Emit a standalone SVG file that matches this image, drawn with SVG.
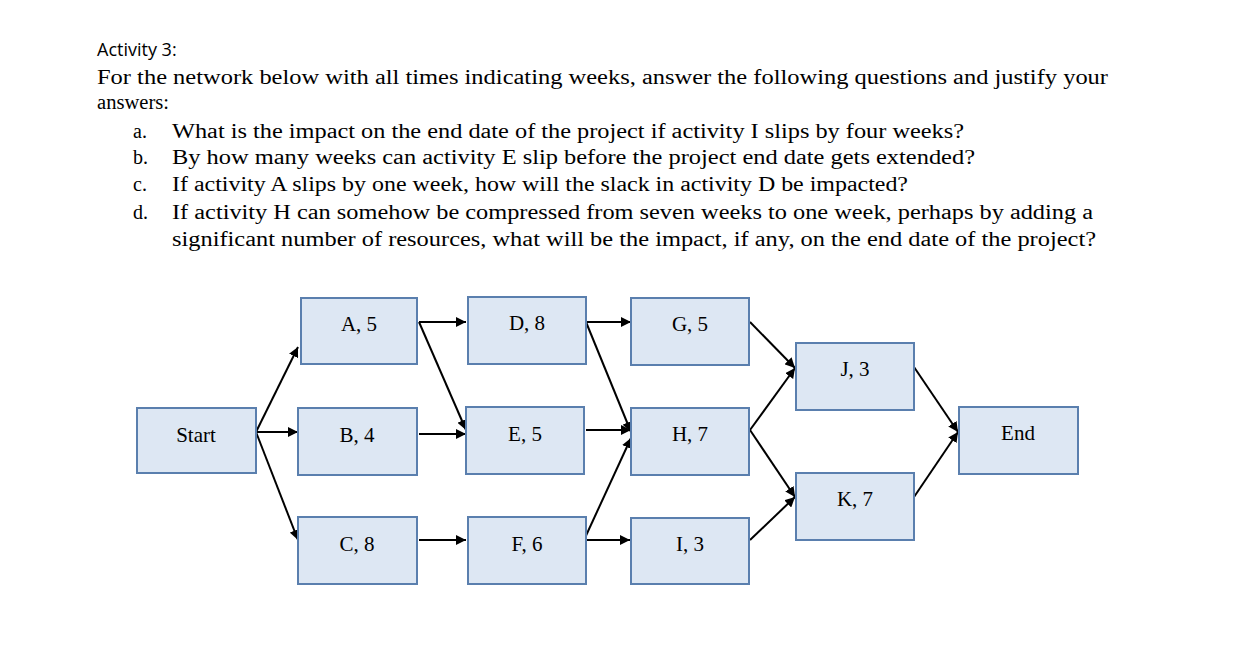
<svg xmlns="http://www.w3.org/2000/svg" width="1247" height="671" viewBox="0 0 1247 671">
<defs>
<style>
.t{font-family:"Liberation Serif","DejaVu Serif",serif;font-size:20px;fill:#000}
.h{font-family:"Open Sans","Liberation Sans",sans-serif;font-size:18px;fill:#000}
.n rect{fill:#dde7f3;stroke:#5a7fae;stroke-width:2}
.n text{font-family:"Liberation Serif","DejaVu Serif",serif;font-size:21px;text-anchor:middle;fill:#000}
.c path{fill:none;stroke:#000;stroke-width:2;marker-end:url(#ah)}
</style>
<marker id="ah" viewBox="0 0 10 10" refX="10" refY="5" markerWidth="5" markerHeight="5" orient="auto" markerUnits="strokeWidth"><path d="M0,0L10,5L0,10z" fill="#000"/></marker>
</defs>
<rect width="1247" height="671" fill="#fff"/>
<text class="h" x="97" y="56">Activity 3:</text>
<text class="t" x="97" y="84" textLength="1011" lengthAdjust="spacingAndGlyphs">For the network below with all times indicating weeks, answer the following questions and justify your</text>
<text class="t" x="97" y="109" textLength="72" lengthAdjust="spacingAndGlyphs">answers:</text>
<text class="t" x="133" y="138">a.</text>
<text class="t" x="172" y="138" textLength="792" lengthAdjust="spacingAndGlyphs">What is the impact on the end date of the project if activity I slips by four weeks?</text>
<text class="t" x="133" y="164">b.</text>
<text class="t" x="172" y="164" textLength="803" lengthAdjust="spacingAndGlyphs">By how many weeks can activity E slip before the project end date gets extended?</text>
<text class="t" x="133" y="191">c.</text>
<text class="t" x="172" y="191" textLength="736" lengthAdjust="spacingAndGlyphs">If activity A slips by one week, how will the slack in activity D be impacted?</text>
<text class="t" x="133" y="219">d.</text>
<text class="t" x="172" y="219" textLength="921" lengthAdjust="spacingAndGlyphs">If activity H can somehow be compressed from seven weeks to one week, perhaps by adding a</text>
<text class="t" x="172" y="246" textLength="924" lengthAdjust="spacingAndGlyphs">significant number of resources, what will be the impact, if any, on the end date of the project?</text>
<g class="c" id="connectors">
<path d="M256,432L298,347"/>
<path d="M256,432L298,432"/>
<path d="M256,432L298,540"/>
<path d="M419,322L466,322"/>
<path d="M419,322L466,430"/>
<path d="M419,434L466,434"/>
<path d="M419,540L466,540"/>
<path d="M586,322L631,322"/>
<path d="M586,322L631,432"/>
<path d="M586,430L631,430"/>
<path d="M584,540L631,438"/>
<path d="M584,540L630,540"/>
<path d="M750,322L795,368"/>
<path d="M750,430L795,368"/>
<path d="M750,430L795,497"/>
<path d="M750,540L795,497"/>
<path d="M914,367L958,432"/>
<path d="M914,497L958,432"/>
</g>
<g class="n" id="start"><rect x="137" y="408" width="119" height="65"/><text x="196" y="442">Start</text></g>
<g class="n" id="a"><rect x="301" y="298" width="116" height="66"/><text x="359" y="331">A, 5</text></g>
<g class="n" id="b"><rect x="298" y="408" width="119" height="67"/><text x="357" y="442">B, 4</text></g>
<g class="n" id="c"><rect x="298" y="517" width="119" height="67"/><text x="357" y="551">C, 8</text></g>
<g class="n" id="d"><rect x="468" y="297" width="118" height="67"/><text x="527" y="330">D, 8</text></g>
<g class="n" id="e"><rect x="466" y="407" width="118" height="67"/><text x="525" y="441">E, 5</text></g>
<g class="n" id="f"><rect x="468" y="517" width="118" height="67"/><text x="527" y="551">F, 6</text></g>
<g class="n" id="g"><rect x="631" y="298" width="118" height="67"/><text x="690" y="331">G, 5</text></g>
<g class="n" id="h"><rect x="631" y="408" width="118" height="67"/><text x="690" y="441">H, 7</text></g>
<g class="n" id="i"><rect x="631" y="518" width="118" height="66"/><text x="690" y="551">I, 3</text></g>
<g class="n" id="j"><rect x="796" y="343" width="118" height="67"/><text x="855" y="376">J, 3</text></g>
<g class="n" id="k"><rect x="796" y="473" width="118" height="67"/><text x="855" y="506">K, 7</text></g>
<g class="n" id="end"><rect x="959" y="407" width="119" height="67"/><text x="1018" y="440">End</text></g>
</svg>
